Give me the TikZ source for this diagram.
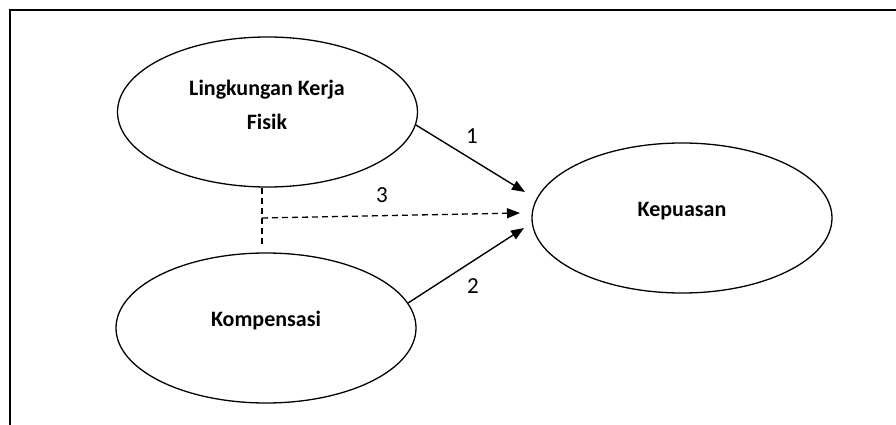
\documentclass[tikz,border=0pt]{standalone}
\usepackage{fontspec}
\setmainfont{Carlito}
\usetikzlibrary{shapes.geometric,arrows.meta}
\begin{document}
\begin{tikzpicture}[x=1pt,y=-1pt,
  var/.style={draw,ellipse,line width=1.3pt,minimum width=300pt,minimum height=150pt,inner sep=0pt},
  vtext/.style={font=\fontsize{22}{34}\selectfont\bfseries,align=center},
  num/.style={font=\fontsize{23}{26}\selectfont,inner sep=0pt},
  dsh/.style={line width=1.3pt,dash pattern=on 6pt off 4pt},
  conn/.style={line width=1.4pt,-{Triangle[length=13pt,width=10pt]}}]
\useasboundingbox (0,0) rectangle (896,425);
\draw[line width=1.6pt] (896,10) -- (10,10) -- (10,425);
\node[var] (L) at (267.5,112) {};
\node[var] (K) at (266,328) {};
\node[var] (P) at (682,218) {};
\node[vtext] (Lt) at (267,105) {Lingkungan Kerja\\Fisik};
\node[vtext] (Kt) at (266,321) {Kompensasi};
\node[vtext] (Pt) at (682,211) {Kepuasan};
\coordinate (t1) at (525,192);
\coordinate (t2) at (524,228);
\coordinate (t3) at (520,213);
\coordinate (m) at (262,218);
\coordinate (v1) at (262,188);
\coordinate (v2) at (262,245);
\draw[conn] (L.-5) -- (t1);
\draw[conn] (K.10) -- (t2);
\draw[dsh] (v1) -- (v2);
\draw[conn,dsh] (m) -- (t3);
\node[num] (n1) at (472,136.5) {1};
\node[num] (n2) at (473,286.5) {2};
\node[num] (n3) at (382,195) {3};
\end{tikzpicture}
\end{document}
